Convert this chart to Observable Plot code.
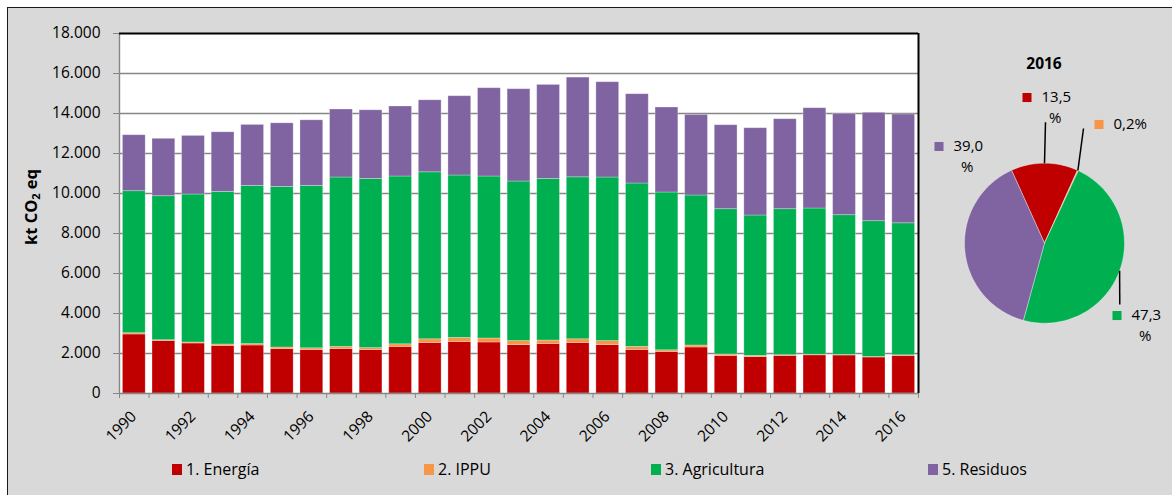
<!DOCTYPE html>
<html>
<head>
<meta charset="utf-8">
<script src="https://cdn.jsdelivr.net/npm/d3@7"></script>
<script src="https://cdn.jsdelivr.net/npm/@observablehq/plot@0.6"></script>
<style>
  html, body { margin: 0; padding: 0; background: #fff; width: 1172px; height: 495px; overflow: hidden; }
  body { font-family: "Open Sans", sans-serif; color: #000; position: relative; }
  #panel { position: absolute; left: 7px; top: 7px; width: 1200px; height: 520px; background: #d9d9d9;
           border-top: 1.5px solid #1a1a1a; border-left: 1.5px solid #1a1a1a; }
  #bars { position: absolute; left: 0; top: 0; }
  #pie { position: absolute; left: 920px; top: 40px; }
  #ylabel { position: absolute; left: 30px; top: 207px; transform: translate(-50%, -50%) rotate(-90deg);
            font-weight: bold; font-size: 16.5px; white-space: nowrap; }
  #ylabel sub { font-size: 11px; vertical-align: -3px; line-height: 0; }
  #pieTitle { position: absolute; left: 1044px; top: 63px; transform: translate(-50%, -50%);
              font-weight: bold; font-size: 15.5px; }
  .lg { position: absolute; top: 469px; transform: translateY(-50%); font-size: 16px; white-space: nowrap;
        display: flex; align-items: center; }
  .lg i { display: inline-block; width: 10px; height: 11px; margin-right: 4px; }
  svg { overflow: visible; }
</style>
</head>
<body>
<div id="panel"></div>
<div id="bars"></div>
<div id="pie"></div>
<div id="ylabel">kt CO<sub>2</sub> eq</div>
<div id="pieTitle"></div>
<div id="legend"></div>
<script>
// Emissions by sector, kt CO2 eq, 1990–2016
const years = [1990, 1991, 1992, 1993, 1994, 1995, 1996, 1997, 1998, 1999, 2000, 2001, 2002, 2003,
               2004, 2005, 2006, 2007, 2008, 2009, 2010, 2011, 2012, 2013, 2014, 2015, 2016];
const energia = [2950, 2630, 2500, 2380, 2400, 2220, 2170, 2220, 2170, 2330, 2530, 2580, 2550, 2420,
                 2480, 2530, 2420, 2180, 2080, 2300, 1880, 1820, 1880, 1910, 1900, 1800, 1880];
const ippu = [65, 35, 50, 70, 70, 80, 90, 110, 100, 130, 180, 200, 200, 200,
              170, 180, 200, 150, 80, 100, 70, 60, 35, 25, 25, 25, 30];
const agricultura = [7100, 7200, 7400, 7630, 7910, 8030, 8120, 8470, 8460, 8390, 8350, 8120, 8100, 7980,
                     8080, 8100, 8180, 8170, 7890, 7500, 7265, 7020, 7300, 7315, 6990, 6790, 6600];
const residuos = [2800, 2870, 2930, 2980, 3050, 3180, 3280, 3400, 3430, 3500, 3600, 3965, 4415, 4615,
                  4700, 4985, 4765, 4465, 4250, 4030, 4200, 4365, 4500, 5015, 5070, 5420, 5440];

const sectors = ["1. Energía", "2. IPPU", "3. Agricultura", "5. Residuos"];
const sectorColors = ["#C00000", "#F79646", "#00B050", "#8064A2"];

const yTicks = [0, 2000, 4000, 6000, 8000, 10000, 12000, 14000, 16000, 18000];
const xLabelYears = [1990, 1992, 1994, 1996, 1998, 2000, 2002, 2004, 2006, 2008, 2010, 2012, 2014, 2016];

// Share of each sector in the last year, percent
const pieYear = "2016";
const pieShares = [13.5, 0.2, 47.3, 39.0];

// Placement of the pie's data labels (pie radius units, y up) and where their leader lines end
const labelLayout = [
  {x: -0.0375, y: 1.821, wrap: true,  leadX: 0.0125, leadY: 1.5125},
  {x: 0.8625,  y: 1.484, wrap: false, leadX: 0.4875, leadY: 1.434},
  {x: 1.0875,  y: -0.904, wrap: true, leadX: 0.941,  leadY: -0.766},
  {x: -1.1375, y: 1.209, wrap: true,  leadX: null,   leadY: null}
];

const series = [energia, ippu, agricultura, residuos];
const rows = years.flatMap((year, i) => sectors.map((sector, s) => ({year, sector, value: series[s][i]})));
const boundaries = [...years, years[years.length - 1] + 1];

const fmtK = d3.formatLocale({decimal: ",", thousands: ".", grouping: [3], currency: ["", ""]}).format(",");
const fmtPct = v => d3.format(".1f")(v).replace(".", ",");

const colorScale = {domain: sectors, range: sectorColors};
const gridColor = "#868686";

const bars = Plot.plot({
  width: 930,
  height: 450,
  marginLeft: 119,
  marginRight: 12,
  marginTop: 33,
  marginBottom: 57,
  style: {background: "transparent", fontFamily: "Open Sans", fontSize: "15px", color: "#000", overflow: "visible"},
  x: {domain: [boundaries[0], boundaries[boundaries.length - 1]], axis: null},
  y: {domain: [yTicks[0], yTicks[yTicks.length - 1]], axis: null},
  color: colorScale,
  marks: [
    Plot.frame({fill: "#fff", stroke: null}),
    Plot.gridY(yTicks.slice(1, -1), {stroke: gridColor, strokeOpacity: 1, strokeWidth: 1.4}),
    Plot.rectY(rows, {x: "year", interval: 1, y: "value", fill: "sector",
                      insetLeft: 3.4, insetRight: 3.4, stroke: "#fff", strokeOpacity: 0.35, strokeWidth: 0.8}),
    Plot.ruleX([boundaries[0]], {stroke: gridColor, strokeWidth: 1.4}),
    Plot.ruleY([yTicks[0]], {stroke: gridColor, strokeWidth: 1.4}),
    Plot.ruleY([yTicks[yTicks.length - 1]], {stroke: "#000", strokeWidth: 2}),
    Plot.ruleX([boundaries[boundaries.length - 1]], {stroke: "#000", strokeWidth: 2}),
    Plot.axisY(yTicks, {anchor: "left", tickSize: 6, tickPadding: 13, tickFormat: fmtK,
                        stroke: gridColor, fill: "#000", fontSize: 15.5, label: null}),
    Plot.axisX(boundaries, {anchor: "bottom", tickSize: 5, tickFormat: () => "", stroke: gridColor, label: null}),
    Plot.text(xLabelYears, {x: d => d + 0.5, frameAnchor: "bottom", text: d => String(d),
                            rotate: -45, textAnchor: "end", lineAnchor: "bottom", dx: 3, dy: 24, fontSize: 15.5})
  ]
});
document.getElementById("bars").append(bars);

// Pie of the final year's shares, first slice centred at 12 o'clock, clockwise
const startDeg = -pieShares[0] * 3.6 / 2;
let acc = startDeg;
const slices = sectors.map((sector, i) => {
  const a0 = acc, a1 = acc + pieShares[i] * 3.6;
  acc = a1;
  return {sector, share: pieShares[i], a0, a1, mid: (a0 + a1) / 2};
});
const polar = (deg, r = 1) => ({x: r * Math.sin(deg * Math.PI / 180), y: r * Math.cos(deg * Math.PI / 180)});
const piePts = slices.flatMap(s => {
  const n = Math.max(2, Math.ceil(s.a1 - s.a0));
  const arc = d3.range(n + 1).map(k => ({sector: s.sector, ...polar(s.a0 + (s.a1 - s.a0) * k / n)}));
  return [{sector: s.sector, x: 0, y: 0}, ...arc, {sector: s.sector, x: 0, y: 0}];
});
const labels = slices.map((s, i) => ({...s, ...labelLayout[i], text: fmtPct(s.share) + (labelLayout[i].wrap ? "" : "%")}));
const leaders = labels.filter(d => d.leadX != null).map(d => {
  const p = polar(d.mid, 1);
  return {x1: p.x, y1: p.y, x2: d.leadX, y2: d.leadY};
});

const pie = Plot.plot({
  width: 252,
  height: 340,
  marginLeft: 44,
  marginRight: 48,
  marginTop: 122.7,
  marginBottom: 57.3,
  style: {background: "transparent", fontFamily: "Open Sans", fontSize: "15px", color: "#000", overflow: "visible"},
  x: {domain: [-1, 1], axis: null},
  y: {domain: [-1, 1], axis: null},
  color: colorScale,
  marks: [
    Plot.line(piePts, {x: "x", y: "y", z: "sector", fill: "sector", stroke: "#fff", strokeOpacity: 0.45, strokeWidth: 0.8}),
    Plot.link(leaders, {x1: "x1", y1: "y1", x2: "x2", y2: "y2", stroke: "#000", strokeWidth: 1.5}),
    Plot.dot(labels, {x: "x", y: "y", symbol: "square", r: 5.1, fill: "sector", dx: -14.5}),
    Plot.text(labels, {x: "x", y: "y", text: "text", textAnchor: "start", fontSize: 15, fill: "#000"}),
    Plot.text(labels.filter(d => d.wrap), {x: "x", y: "y", text: () => "%", textAnchor: "start", dx: 7.5, dy: 21, fontSize: 15, fill: "#000"})
  ]
});
document.getElementById("pie").append(pie);
document.getElementById("pieTitle").textContent = pieYear;

// Legend below the chart
const legendX = [172, 424, 651, 928];
const legend = document.getElementById("legend");
sectors.forEach((s, i) => {
  const item = document.createElement("div");
  item.className = "lg";
  item.style.left = legendX[i] + "px";
  item.innerHTML = `<i style="background:${sectorColors[i]}"></i>${s}`;
  legend.append(item);
});
</script>
</body>
</html>
